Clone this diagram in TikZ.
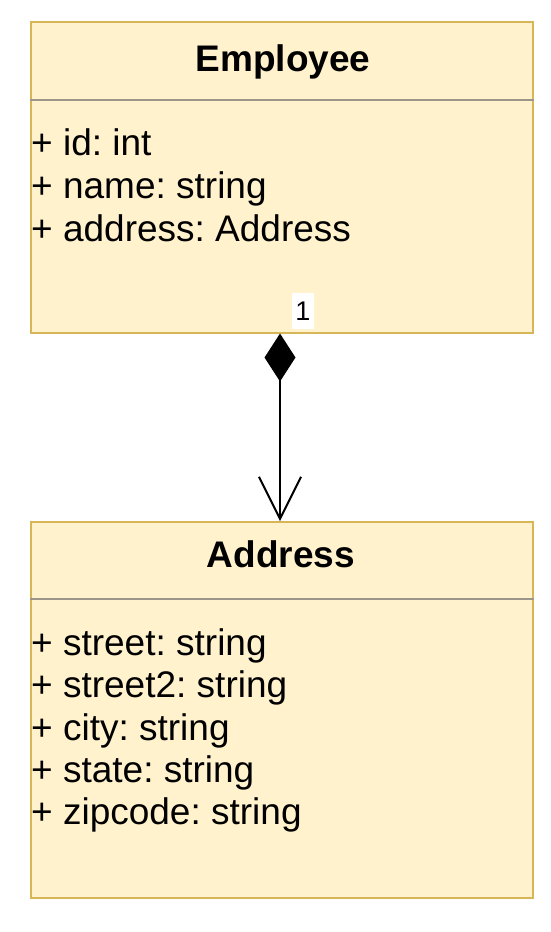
\documentclass[tikz,border=0pt]{standalone}
\usepackage{fontspec}
\setmainfont{Liberation Sans}
\frenchspacing
\usetikzlibrary{arrows.meta,positioning}
\definecolor{umlfill}{HTML}{FFF2CC}
\definecolor{umlline}{HTML}{D6B656}
\definecolor{umlsep}{HTML}{9C968A}
\tikzset{
  classbox/.style={draw=umlline,fill=umlfill,line width=1.5pt,minimum width=502pt,anchor=north west,inner sep=0pt},
  clstitle/.style={font=\fontsize{37}{43}\selectfont\bfseries,anchor=base,inner sep=0pt},
  attr/.style={font=\fontsize{37}{43}\selectfont,anchor=base west,inner sep=0pt},
  sepline/.style={draw=umlsep,line width=1.5pt},
  mult/.style={fill=white,font=\fontsize{27}{32}\selectfont,inner xsep=3pt,inner ysep=9pt},
  comp/.style={{Diamond[length=48pt,width=31pt]}-{Straight Barb[length=42pt,width=42pt]},line width=2pt}
}
\begin{document}
\begin{tikzpicture}[x=1pt,y=-1pt]
\useasboundingbox (0,0) rectangle (550,932);
% Employee class
\node[classbox,minimum height=311pt] (employee) at (30,21) {};
\node[clstitle] (emptitle) at (283,71) {Employee};
\draw[sepline] (employee.west |- 0,100) -- (employee.east |- 0,100);
\node[attr] (empid) at (31,155) {+ id: int};
\node[attr] (empname) at (31,198) {+ name: string};
\node[attr] (empaddr) at (31,241) {+ address: Address};
% Address class
\node[classbox,minimum height=376pt] (address) at (30,521) {};
\node[clstitle] (addrtitle) at (281,567) {Address};
\draw[sepline] (address.west |- 0,599) -- (address.east |- 0,599);
\node[attr] (street) at (31,655) {+ street: string};
\node[attr] (street2) at (31,697) {+ street2: string};
\node[attr] (city) at (31,740) {+ city: string};
\node[attr] (state) at (31,782) {+ state: string};
\node[attr] (zipcode) at (31,824) {+ zipcode: string};
% composition
\node[mult] (mone) at (303,311) {1};
\draw[comp] (employee.south -| 280,0) -- (address.north -| 280,0);
\end{tikzpicture}
\end{document}
